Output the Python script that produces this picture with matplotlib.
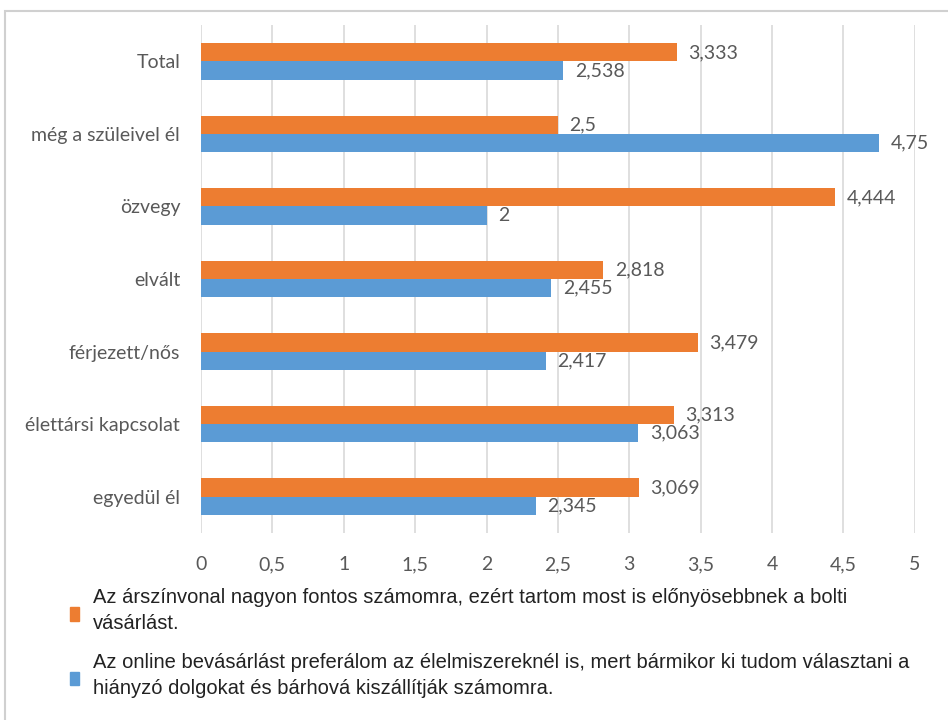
import matplotlib.pyplot as plt
import numpy as np
from matplotlib.patches import Rectangle

categories = ["Total", "még a szüleivel él", "özvegy", "elvált",
              "férjezett/nős", "élettársi kapcsolat", "egyedül él"]
price_vals = [3.333, 2.5, 4.444, 2.818, 3.479, 3.313, 3.069]
online_vals = [2.538, 4.75, 2.0, 2.455, 2.417, 3.063, 2.345]
price_labels = ["3,333", "2,5", "4,444", "2,818", "3,479", "3,313", "3,069"]
online_labels = ["2,538", "4,75", "2", "2,455", "2,417", "3,063", "2,345"]
xticks = [0, 0.5, 1, 1.5, 2, 2.5, 3, 3.5, 4, 4.5, 5]
xtick_labels = ["0", "0,5", "1", "1,5", "2", "2,5", "3", "3,5", "4", "4,5", "5"]
legend_texts = [
    "Az árszínvonal nagyon fontos számomra, ezért tartom most is előnyösebbnek a bolti\nvásárlást.",
    "Az online bevásárlást preferálom az élelmiszereknél is, mert bármikor ki tudom választani a\nhiányzó dolgokat és bárhová kiszállítják számomra.",
]

orange = "#ED7D31"
blue = "#5B9BD5"
grey = "#595959"
label_font = ["Lato", "DejaVu Sans"]

fig = plt.figure(figsize=(9.48, 7.2), dpi=100)
ax = fig.add_axes([0.212, 0.26, 0.753, 0.705])

y = np.arange(len(categories))
h = 0.25
ax.barh(y - h / 2, price_vals, height=h, color=orange, zorder=3)
ax.barh(y + h / 2, online_vals, height=h, color=blue, zorder=3)

for yi, v, s in zip(y, price_vals, price_labels):
    ax.text(v + 0.08, yi - h / 2, s, va="center", ha="left", fontsize=14,
            color=grey, family=label_font)
for yi, v, s in zip(y, online_vals, online_labels):
    ax.text(v + 0.08, yi + h / 2, s, va="center", ha="left", fontsize=14,
            color=grey, family=label_font)

ax.set_xlim(0, 5)
ax.set_ylim(len(categories) - 0.5, -0.5)
ax.set_xticks(xticks)
ax.set_xticklabels(xtick_labels, family=label_font, fontsize=14, color=grey)
ax.set_yticks(y)
ax.set_yticklabels(categories, family=label_font, fontsize=14, color=grey)
ax.tick_params(axis="x", length=0, pad=17)
ax.tick_params(axis="y", length=0, pad=15)
ax.grid(axis="x", color="#D9D9D9", lw=1.2, zorder=0)
for sp in ax.spines.values():
    sp.set_visible(False)

# legend drawn by hand below the axis
for i, (txt, col) in enumerate(zip(legend_texts, [orange, blue])):
    ytop = 0.183 - i * 0.09
    fig.text(0.098, ytop, txt, fontsize=14.5, va="top", ha="left",
             family="Liberation Sans", color="#222222", linespacing=1.45)
    fig.patches.append(Rectangle((0.074, ytop - 0.045), 0.0095, 0.019,
                                 transform=fig.transFigure, color=col))

# chart border
fig.patches.append(Rectangle((0.005, -0.01), 1.0, 0.995, transform=fig.transFigure,
                             fill=False, edgecolor="#D0D0D0", lw=1.5))

fig.savefig("out.png", dpi=100)
